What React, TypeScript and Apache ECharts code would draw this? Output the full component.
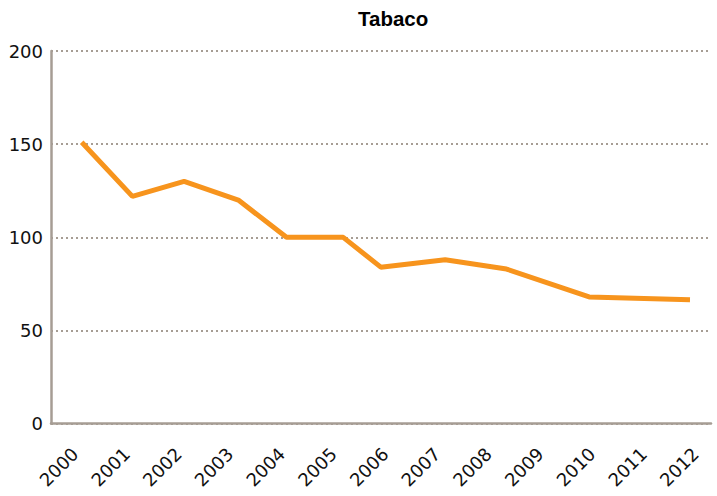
import React, { useEffect, useRef } from "react";
import * as echarts from "echarts";

// Year labels along the bottom axis
const years = ["2000", "2001", "2002", "2003", "2004", "2005", "2006", "2007", "2008", "2009", "2010", "2011", "2012"];

// Measurement times (fractional years) and values of the tobacco series
const sampleTimes = [2000, 2001, 2002.02, 2003.09, 2004.04, 2005.16, 2005.9, 2007.17, 2008.38, 2010.01, 2012];
const sampleValues = [151, 122, 130, 120, 100, 100, 84, 88, 83, 68, 66.5];

// Value axis range and step
const yMin = 0;
const yMax = 200;
const yStep = 50;

const AXIS_COLOR = "#a69d94";
const LABEL_FONT = "DejaVu Sans";

export default function App() {
  const ref = useRef<HTMLDivElement>(null);

  useEffect(() => {
    document.body.style.margin = "0";
    if (!ref.current) return;
    const chart = echarts.init(ref.current, undefined, { renderer: "svg" });

    const points = sampleTimes.map((t, i) => [t, sampleValues[i]]);

    chart.setOption({
      animation: false,
      backgroundColor: "#ffffff",
      title: {
        text: "Tabaco",
        left: 358,
        top: 8,
        padding: 0,
        textStyle: {
          fontFamily: "Liberation Sans",
          fontWeight: "bold",
          fontSize: 20.5,
          color: "#000000",
        },
      },
      grid: [
        { left: 51, right: 6, top: 51, bottom: 72.3 },
        { left: 75, right: 21.6, top: 51, bottom: 72.3 },
      ],
      xAxis: [
        {
          type: "value",
          gridIndex: 0,
          min: 1999.3944,
          max: 2012.4143,
          axisLine: { show: true, lineStyle: { color: AXIS_COLOR, width: 2.5 } },
          axisTick: { show: false },
          axisLabel: { show: false },
          splitLine: { show: false },
        },
        {
          type: "category",
          gridIndex: 1,
          data: years,
          boundaryGap: false,
          axisLine: { show: false },
          axisTick: { show: false },
          splitLine: { show: false },
          axisLabel: {
            rotate: 45,
            margin: 27,
            interval: 0,
            fontFamily: LABEL_FONT,
            fontSize: 18,
            color: "#111111",
          },
        },
      ],
      yAxis: [
        {
          type: "value",
          gridIndex: 0,
          min: yMin,
          max: yMax,
          interval: yStep,
          axisLine: { show: true, lineStyle: { color: AXIS_COLOR, width: 2.5 } },
          axisTick: { show: false },
          axisLabel: {
            margin: 8,
            fontFamily: LABEL_FONT,
            fontSize: 18,
            color: "#111111",
          },
          splitLine: {
            show: true,
            lineStyle: { color: AXIS_COLOR, width: 2, type: [2, 3] },
          },
        },
        {
          type: "value",
          gridIndex: 1,
          min: yMin,
          max: yMax,
          show: false,
        },
      ],
      series: [
        {
          type: "line",
          xAxisIndex: 0,
          yAxisIndex: 0,
          data: points,
          showSymbol: false,
          symbol: "none",
          z: 5,
          lineStyle: { color: "#f7941d", width: 5 },
        },
      ],
    });

    return () => chart.dispose();
  }, []);

  return <div ref={ref} style={{ width: 717, height: 496 }} />;
}
